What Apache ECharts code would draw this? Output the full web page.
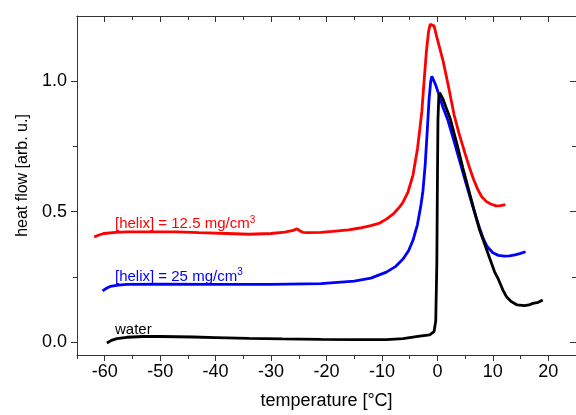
<!DOCTYPE html>
<html>
<head>
<meta charset="utf-8">
<script src="https://cdn.jsdelivr.net/npm/echarts@6/dist/echarts.min.js"></script>
<style>
  html, body { margin: 0; padding: 0; background: #fff; }
  #chart { width: 576px; height: 415px; }
</style>
</head>
<body>
<div id="chart"></div>
<script>
// tick positions
const xMajorTicks = [-60, -50, -40, -30, -20, -10, 0, 10, 20];
const xMinorTicks = [-65, -55, -45, -35, -25, -15, -5, 5, 15, 25];
const yMajorTicks = [0, 0.5, 1.0];
const yMinorTicks = [0.25, 0.75];

// [temperature °C, heat flow]
const helix125 = [
  [-61.9, 0.403], [-61, 0.41], [-60.2, 0.416], [-58, 0.42], [-56, 0.422], [-50, 0.422],
  [-47, 0.422], [-43, 0.419], [-38, 0.416], [-34, 0.413], [-30, 0.416], [-27.5, 0.421],
  [-26, 0.428], [-25.3, 0.434], [-24.8, 0.426], [-24.2, 0.42], [-23.5, 0.419], [-21, 0.42],
  [-18.9, 0.424], [-16, 0.43], [-14, 0.437], [-12, 0.446], [-10.4, 0.456], [-9.2, 0.471],
  [-8, 0.49], [-6.8, 0.518], [-6.2, 0.536], [-5.3, 0.575], [-4.4, 0.64], [-3.6, 0.74],
  [-3.2, 0.81], [-2.8, 0.885], [-2.4, 1.0], [-2.0, 1.11], [-1.6, 1.19], [-1.3, 1.218],
  [-1.0, 1.224], [-0.6, 1.212], [0, 1.16], [1.0, 1.08], [2.0, 0.98], [3.0, 0.872],
  [4.0, 0.792], [5.0, 0.722], [5.8, 0.668], [6.5, 0.625], [7.3, 0.584],
  [8.0, 0.557], [8.8, 0.539], [9.6, 0.529], [10.6, 0.522], [11.4, 0.523], [12.25, 0.527]
];

const helix25 = [
  [-60.4, 0.196], [-59.6, 0.207], [-59, 0.213], [-57.5, 0.218], [-56, 0.221], [-50, 0.222],
  [-40, 0.221], [-30, 0.221], [-21, 0.224], [-15, 0.233], [-12, 0.245], [-9.2, 0.268],
  [-7.5, 0.29], [-6.2, 0.318], [-5.2, 0.35], [-4.4, 0.39], [-3.6, 0.45], [-3.0, 0.52],
  [-2.6, 0.58], [-2.2, 0.68], [-1.8, 0.82], [-1.5, 0.93], [-1.2, 1.0], [-1.0, 1.019],
  [-0.7, 1.012], [-0.3, 0.985], [0.4, 0.94], [1.0, 0.9], [1.9, 0.85], [3.0, 0.77],
  [4.0, 0.695], [5.2, 0.605], [6.4, 0.518], [7.6, 0.437], [8.3, 0.395], [9.0, 0.365],
  [10.0, 0.342], [11.0, 0.332], [12.1, 0.329], [13.0, 0.33], [14.0, 0.334], [15.0, 0.34],
  [15.9, 0.346]
];

const water = [
  [-59.6, -0.004], [-58.8, 0.006], [-57.8, 0.013], [-56, 0.018], [-53, 0.021], [-50, 0.021],
  [-44, 0.019], [-40, 0.017], [-34, 0.014], [-28, 0.012], [-21, 0.01], [-15, 0.009],
  [-9.2, 0.009], [-6.2, 0.013], [-3.2, 0.022], [-1.4, 0.027], [-0.6, 0.04], [-0.3, 0.08],
  [-0.1, 0.3], [0.0, 0.6], [0.1, 0.85], [0.25, 0.94], [0.4, 0.956], [1.0, 0.932],
  [1.6, 0.897], [2.3, 0.857], [3.5, 0.762], [4.6, 0.667], [5.8, 0.571], [7.0, 0.476],
  [7.6, 0.43], [8.2, 0.395], [9.4, 0.323], [10.3, 0.27], [10.9, 0.245], [11.8, 0.2],
  [12.5, 0.172], [13.3, 0.155], [14.4, 0.142], [15.7, 0.139], [16.5, 0.142], [17.2, 0.148],
  [18.2, 0.152], [19.0, 0.161]
];

const FONT = '"Liberation Sans", Arial, sans-serif';
const AXIS = '#333';

const chart = echarts.init(document.getElementById('chart'));

function xAx(pos, ticks, len, inside, labels) {
  return {
    type: 'value', position: pos, min: -65, max: 25,
    axisLine: { show: labels !== null || pos === 'top', onZero: false, lineStyle: { color: AXIS, width: 1 } },
    axisTick: { show: true, customValues: ticks, length: len, inside, lineStyle: { color: AXIS } },
    axisLabel: labels
      ? { show: true, customValues: labels, fontSize: 18, fontFamily: FONT, color: '#000', margin: 8 }
      : { show: false },
    splitLine: { show: false }
  };
}

function yAx(pos, ticks, len, inside, labels) {
  return {
    type: 'value', position: pos, min: -0.05, max: 1.25,
    axisLine: { show: labels !== null || pos === 'right', onZero: false, lineStyle: { color: AXIS, width: 1 } },
    axisTick: { show: true, customValues: ticks, length: len, inside, lineStyle: { color: AXIS } },
    axisLabel: labels
      ? { show: true, customValues: labels, fontSize: 18, fontFamily: FONT, color: '#000', margin: 10,
          formatter: v => v.toFixed(1) }
      : { show: false },
    splitLine: { show: false }
  };
}

const xMain = xAx('bottom', xMajorTicks, 6, false, xMajorTicks);
xMain.name = 'temperature [°C]';
xMain.nameLocation = 'middle';
xMain.nameGap = 37;
xMain.nameTextStyle = { fontSize: 18, fontFamily: FONT, color: '#000' };

const yMain = yAx('left', yMajorTicks, 6, false, yMajorTicks);
yMain.name = 'heat flow [arb. u.]';
yMain.nameLocation = 'middle';
yMain.nameGap = 46;
yMain.nameTextStyle = { fontSize: 16, fontFamily: FONT, color: '#000', padding: [0, 0, 0, 20] };

const line = (data, color) => ({
  type: 'line', data, showSymbol: false, symbol: 'none',
  xAxisIndex: 0, yAxisIndex: 0,
  lineStyle: { color, width: 2.8 }, animation: false
});

const sup = { fontSize: 10, fontFamily: FONT, verticalAlign: 'top', lineHeight: 18 };
const mainTxt = { fontSize: 15, fontFamily: FONT, lineHeight: 18 };

chart.setOption({
  animation: false,
  grid: { left: 77, right: -1, top: 16, bottom: 57 },
  xAxis: [
    xMain,
    xAx('bottom', xMinorTicks, 4, false, null),
    xAx('top', xMajorTicks, 6, true, null),
    xAx('top', xMinorTicks, 4, true, null)
  ],
  yAxis: [
    yMain,
    yAx('left', yMinorTicks, 4, false, null),
    yAx('right', yMajorTicks, 6, true, null),
    yAx('right', yMinorTicks, 4, true, null)
  ],
  series: [
    line(helix125, '#ff0000'),
    line(helix25, '#0000ff'),
    line(water, '#000000')
  ],
  graphic: [
    {
      type: 'text', x: 115, y: 224, silent: true,
      style: {
        text: '{a|[helix] = 12.5 mg/cm}{s|3}', fill: '#ff0000', verticalAlign: 'middle',
        rich: { a: Object.assign({ fill: '#ff0000' }, mainTxt), s: Object.assign({ fill: '#ff0000' }, sup) }
      }
    },
    {
      type: 'text', x: 115, y: 276.5, silent: true,
      style: {
        text: '{a|[helix] = 25 mg/cm}{s|3}', fill: '#0000ff', verticalAlign: 'middle',
        rich: { a: Object.assign({ fill: '#0000ff' }, mainTxt), s: Object.assign({ fill: '#0000ff' }, sup) }
      }
    },
    {
      type: 'text', x: 115, y: 330, silent: true,
      style: { text: 'water', fill: '#000', font: '15px ' + FONT, verticalAlign: 'middle' }
    }
  ]
});
</script>
</body>
</html>
